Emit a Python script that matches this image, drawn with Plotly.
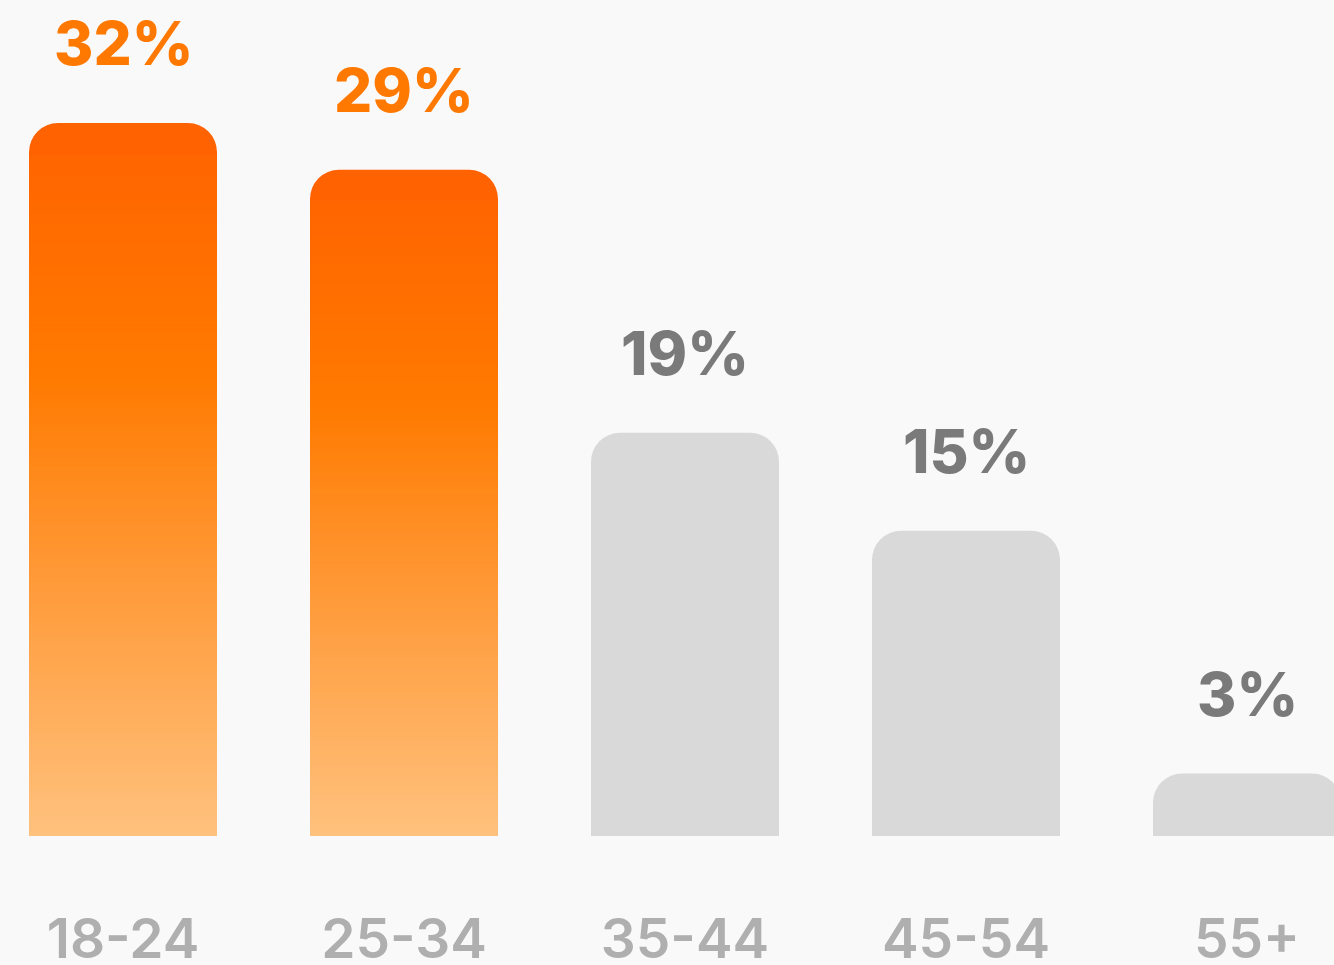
import plotly.graph_objects as go

# ---- data ----
categories = ["18-24", "25-34", "35-44", "45-54", "55+"]
shares = [32, 29, 19, 15, 3]
labels = ["32%", "29%", "19%", "15%", "3%"]
bar_heights = [32, 29.9, 18.1, 13.7, 2.8]   # drawn heights
highlight = [True, True, False, False, False]

# ---- style ----
BG = "#F9F9F9"
GREY_BAR = "#D9D9D9"
ORANGE_TXT = "#FF7800"
GREY_TXT = "#7A7A7A"
TICK_TXT = "#AFAFAF"
FONT = "Inter"
RADIUS = 29
STOPS = [(0.0, (255, 194, 127)), (0.65, (255, 122, 0)), (1.0, (255, 98, 0))]


def grad(t):
    for (t0, c0), (t1, c1) in zip(STOPS[:-1], STOPS[1:]):
        if t0 <= t <= t1:
            u = (t - t0) / (t1 - t0)
            c = [round(a + (b - a) * u) for a, b in zip(c0, c1)]
            return "rgb(%d,%d,%d)" % tuple(c)
    return "rgb(%d,%d,%d)" % STOPS[-1][1]


fig = go.Figure()

hi_heights = [h if hl else None for h, hl in zip(bar_heights, highlight)]
lo_heights = [None if hl else h for h, hl in zip(bar_heights, highlight)]

fig.add_trace(go.Bar(x=categories, y=hi_heights, width=0.669,
                     marker=dict(color=grad(1.0), cornerradius=RADIUS, line=dict(width=0)),
                     hoverinfo="skip", showlegend=False))
N = 140
FMAX = 0.955
for k in range(N):
    f = FMAX * (N - k) / N
    fig.add_trace(go.Bar(x=categories, y=[h * f if h is not None else None for h in hi_heights],
                         width=0.669,
                         marker=dict(color=grad(f), cornerradius=0, line=dict(width=0)),
                         hoverinfo="skip", showlegend=False))
fig.add_trace(go.Bar(x=categories, y=lo_heights, width=0.669,
                     marker=dict(color=GREY_BAR, cornerradius=RADIUS, line=dict(width=0)),
                     hoverinfo="skip", showlegend=False))

for c, h, lab, hl in zip(categories, bar_heights, labels, highlight):
    fig.add_annotation(x=c, y=h, text=lab, showarrow=False, xanchor="center",
                       yanchor="middle", yshift=80,
                       font=dict(family=FONT, size=60, weight=800,
                                 color=ORANGE_TXT if hl else GREY_TXT))

px_per_unit = 713 / 32
fig.update_layout(
    width=1334, height=965,
    barmode="overlay",
    paper_bgcolor=BG, plot_bgcolor=BG,
    margin=dict(l=0, r=0, t=0, b=129),
    xaxis=dict(type="category", range=[-123 / 281, -123 / 281 + 1334 / 281],
               showgrid=False, zeroline=False, showline=False, ticks="",
               automargin=False,
               tickfont=dict(family=FONT, size=55, weight=600, color=TICK_TXT),
               ticklabelstandoff=66),
    yaxis=dict(range=[0, 836 / px_per_unit], visible=False, automargin=False),
    showlegend=False,
)

fig.write_html("out.html", config={"displayModeBar": False},
               post_script="document.body.style.margin='0';document.body.style.background='#F9F9F9';")
